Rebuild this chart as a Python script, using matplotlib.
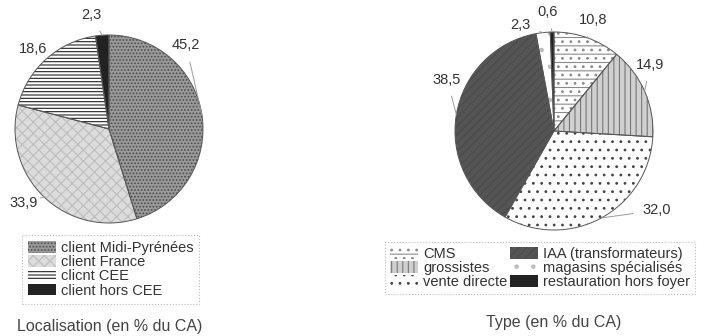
import matplotlib
matplotlib.use("Agg")
import matplotlib.pyplot as plt
from matplotlib.patches import Patch
import numpy as np

plt.rcParams['font.family'] = ['Liberation Sans', 'DejaVu Sans']
plt.rcParams['hatch.linewidth'] = 0.8

# left pie: localisation
loc_labels = ["client Midi-Pyrénées", "client France", "clicnt CEE", "client hors CEE"]
loc_values = [45.2, 33.9, 18.6, 2.3]
loc_text = ["45,2", "33,9", "18,6", "2,3"]

# right pie: type
type_labels = ["CMS", "grossistes", "vente directe", "IAA (transformateurs)",
               "magasins spécialisés", "restauration hors foyer"]
type_values = [10.8, 14.9, 32.0, 38.5, 2.3, 0.6]
type_text = ["10,8", "14,9", "32,0", "38,5", "2,3", "0,6"]

loc_styles = [
    dict(fc='#9a9a9a', hatch='.....', ec='#4a4a4a'),
    dict(fc='#dcdcdc', hatch='xxx', ec='#bdbdbd'),
    dict(fc='white', hatch='-----', ec='#222222'),
    dict(fc='#222222', hatch=None, ec='#222222'),
]
type_styles = [
    dict(fc='white', hatch='--..', ec='#8a8a8a'),
    dict(fc='#d0d0d0', hatch='|||', ec='#777777'),
    dict(fc='white', hatch='..', ec='#444444'),
    dict(fc='#555555', hatch='////', ec='#4a4a4a'),
    dict(fc='white', hatch='.', ec='#bbbbbb'),
    dict(fc='#222222', hatch=None, ec='#222222'),
]

W, H = 708, 336
fig = plt.figure(figsize=(W / 100, H / 100), dpi=100)


def pie_axes(cx, cy, r):
    return fig.add_axes([(cx - r) / W, (H - cy - r) / H, 2 * r / W, 2 * r / H])


def draw_pie(ax, values, styles, texts, label_pos):
    wedges, _ = ax.pie(values, startangle=90, counterclock=False, radius=1.0,
                       wedgeprops=dict(linewidth=0))
    for w, s in zip(wedges, styles):
        w.set_facecolor(s['fc'])
        w.set_edgecolor(s['ec'])
        if s['hatch']:
            w.set_hatch(s['hatch'])
    # outline on top
    ax.pie(values, startangle=90, counterclock=False, radius=1.0,
           wedgeprops=dict(fill=False, linewidth=0.7, edgecolor='#555555'))
    total = sum(values)
    cum = 0
    for v, t, (lx, ly) in zip(values, texts, label_pos):
        mid = 90 - 360 * (cum + v / 2) / total
        cum += v
        a = np.deg2rad(mid)
        ex, ey = np.cos(a), np.sin(a)
        ax.annotate(t, xy=(ex, ey), xytext=(lx, ly), fontsize=10.5, color='#333333',
                    ha='center', va='center', annotation_clip=False,
                    arrowprops=dict(arrowstyle='-', color='#999999', lw=0.7,
                                    shrinkA=5, shrinkB=0))
    ax.set_xlim(-1, 1)
    ax.set_ylim(-1, 1)
    ax.axis('off')


ax1 = pie_axes(109, 129, 94)
draw_pie(ax1, loc_values, loc_styles, loc_text,
         [(0.82, 0.89), (-0.91, -0.79), (-0.81, 0.85), (-0.19, 1.21)])

ax2 = pie_axes(554, 131, 99)
draw_pie(ax2, type_values, type_styles, type_text,
         [(0.40, 1.12), (0.97, 0.67), (1.04, -0.80), (-1.08, 0.52), (-0.34, 1.07), (-0.06, 1.20)])


def handles(styles):
    out = []
    for s in styles:
        out.append(Patch(facecolor=s['fc'], edgecolor=s['ec'], hatch=s['hatch'], linewidth=0))
    return out


leg1 = fig.legend(handles(loc_styles), loc_labels, loc='upper left',
                  bbox_to_anchor=(22 / W, 1 - 235 / H), borderaxespad=0, fontsize=10.5,
                  handlelength=1.9, handleheight=0.85, labelspacing=0.02,
                  handletextpad=0.35, borderpad=0.4, fancybox=False,
                  edgecolor='#aaaaaa', labelcolor='#333333')
leg1.get_frame().set_linestyle(':')
leg1.get_frame().set_linewidth(0.8)

leg2 = fig.legend(handles(type_styles), type_labels, loc='upper left', ncol=2,
                  bbox_to_anchor=(385 / W, 1 - 242 / H), borderaxespad=0, fontsize=10.5,
                  handlelength=1.9, handleheight=0.85, labelspacing=0.0,
                  handletextpad=0.35, columnspacing=0.2, borderpad=0.35,
                  fancybox=False, edgecolor='#aaaaaa', labelcolor='#333333')
leg2.get_frame().set_linestyle(':')
leg2.get_frame().set_linewidth(0.8)

fig.text(110 / W, 1 - 326 / H, "Localisation (en % du CA)", ha='center', va='center',
         fontsize=11.5, color='#444444')
fig.text(554 / W, 1 - 323 / H, "Type (en % du CA)", ha='center', va='center',
         fontsize=11.5, color='#444444')

fig.savefig("out.png", dpi=100)
